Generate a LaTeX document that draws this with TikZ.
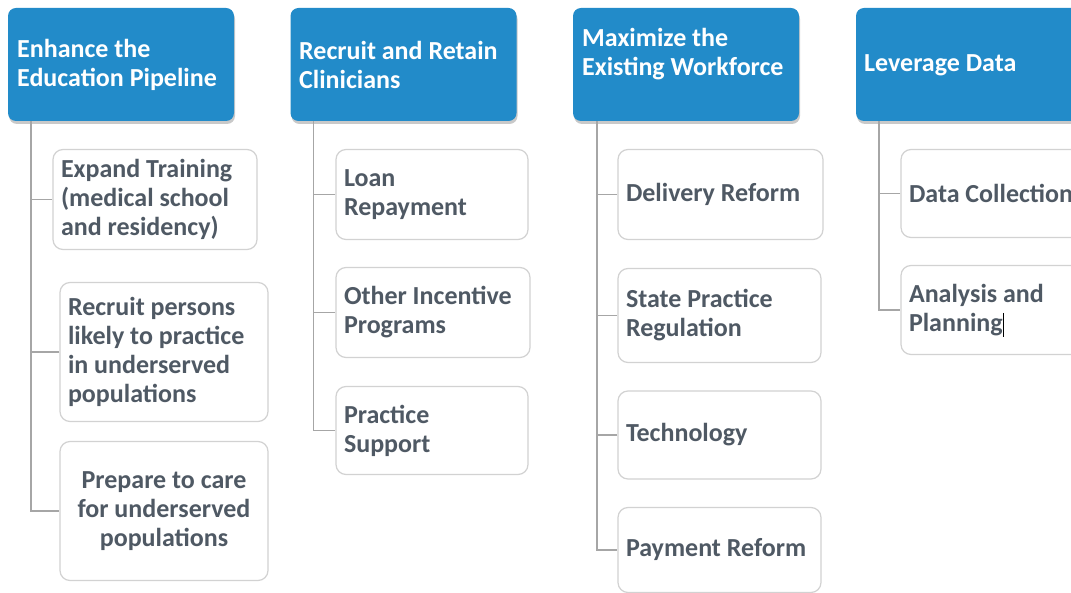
\documentclass[tikz,border=0pt]{standalone}
\usepackage{fontspec}
\setmainfont{Carlito}
\usetikzlibrary{shadows}
\definecolor{hdrblue}{HTML}{228BC9}
\definecolor{txtgray}{HTML}{4F5964}
\definecolor{boxline}{HTML}{D2D2D2}
\definecolor{connline}{HTML}{A6A6A6}
\tikzset{
  hdr/.style={draw=none, fill=hdrblue, rounded corners=8pt, minimum width=226pt, minimum height=113pt, inner sep=0pt,
    drop shadow={shadow xshift=1pt, shadow yshift=-3pt, opacity=0.35, fill=black!60}},
  hdrtxt/.style={text=white, font=\fontsize{26}{29}\selectfont\bfseries, align=flush left, anchor=west, inner sep=0pt},
  kid/.style={draw=boxline, line width=1.2pt, fill=white, rounded corners=10pt, inner xsep=8pt, inner ysep=0pt,
    text=txtgray, font=\fontsize{26}{29}\selectfont\bfseries, align=flush left},
  conn/.style={draw=connline, line width=1.4pt},
}
\begin{document}
\begin{tikzpicture}[x=1pt, y=-1pt]
\useasboundingbox (0,0) rectangle (1071,593);
\clip (0,0) rectangle (1071,593);
\fill[white] (0,0) rectangle (1071,593);
% headers
\node[hdr] (h1) at (121,64.5) {};
\node[hdr] (h2) at (403.5,64.5) {};
\node[hdr] (h3) at (686,64.5) {};
\node[hdr] (h4) at (969,64.5) {};
\node[hdrtxt] (ht1) at (17,64.5) {Enhance the\\Education Pipeline};
\node[hdrtxt] (ht2) at (299,64.5) {Recruit and Retain\\Clinicians};
\node[hdrtxt] (ht3) at (582,54.5) {Maximize the\\Existing Workforce};
\node[hdrtxt] (ht4) at (864,65) {Leverage Data};
% column 1
\node[kid, minimum width=204pt, minimum height=100pt, text width=188pt] (c1) at (155,199.5) {Expand Training\\(medical school\\and residency)};
\node[kid, minimum width=208pt, minimum height=139pt, text width=192pt] (c2) at (164,352) {Recruit persons\\likely to practice\\in underserved\\populations};
\node[kid, minimum width=208pt, minimum height=139pt, text width=192pt, align=flush center] (c3) at (164,511) {Prepare to care\\for underserved\\populations};
% column 2
\node[kid, minimum width=192pt, minimum height=90pt, text width=176pt] (d1) at (432,194.5) {Loan\\Repayment};
\node[kid, minimum width=194pt, minimum height=90pt, text width=178pt] (d2) at (433,312.5) {Other Incentive\\Programs};
\node[kid, minimum width=192pt, minimum height=88pt, text width=176pt] (d3) at (432,430.5) {Practice\\Support};
% column 3
\node[kid, minimum width=205pt, minimum height=90pt, text width=189pt] (e1) at (720.5,194.5) {Delivery Reform};
\node[kid, minimum width=203pt, minimum height=94pt, text width=187pt] (e2) at (719.5,315.5) {State Practice\\Regulation};
\node[kid, minimum width=203pt, minimum height=88pt, text width=187pt] (e3) at (719.5,435) {Technology};
\node[kid, minimum width=203pt, minimum height=85pt, text width=187pt] (e4) at (719.5,550) {Payment Reform};
% column 4
\node[kid, minimum width=205pt, minimum height=88pt, text width=189pt] (f1) at (1003.5,193.5) {Data Collection};
\node[kid, minimum width=205pt, minimum height=89pt, text width=189pt] (f2) at (1003.5,310) {Analysis and\\Planning};
\draw[black, line width=1pt] (1003,313) -- (1003,337);
% connectors
\coordinate (t1) at ([xshift=23pt]h1.south west);
\coordinate (t2) at ([xshift=23pt]h2.south west);
\coordinate (t3) at ([xshift=24pt]h3.south west);
\coordinate (t4) at ([xshift=23pt]h4.south west);
\draw[conn] (t1) |- (c3.west);
\draw[conn] (c1.west) -- (c1.west -| t1);
\draw[conn] (c2.west) -- (c2.west -| t1);
\draw[conn] (t2) |- (d3.west);
\draw[conn] (d1.west) -- (d1.west -| t2);
\draw[conn] (d2.west) -- (d2.west -| t2);
\draw[conn] (t3) |- (e4.west);
\draw[conn] (e1.west) -- (e1.west -| t3);
\draw[conn] (e2.west) -- (e2.west -| t3);
\draw[conn] (e3.west) -- (e3.west -| t3);
\draw[conn] (t4) |- (f2.west);
\draw[conn] (f1.west) -- (f1.west -| t4);
\end{tikzpicture}
\end{document}
